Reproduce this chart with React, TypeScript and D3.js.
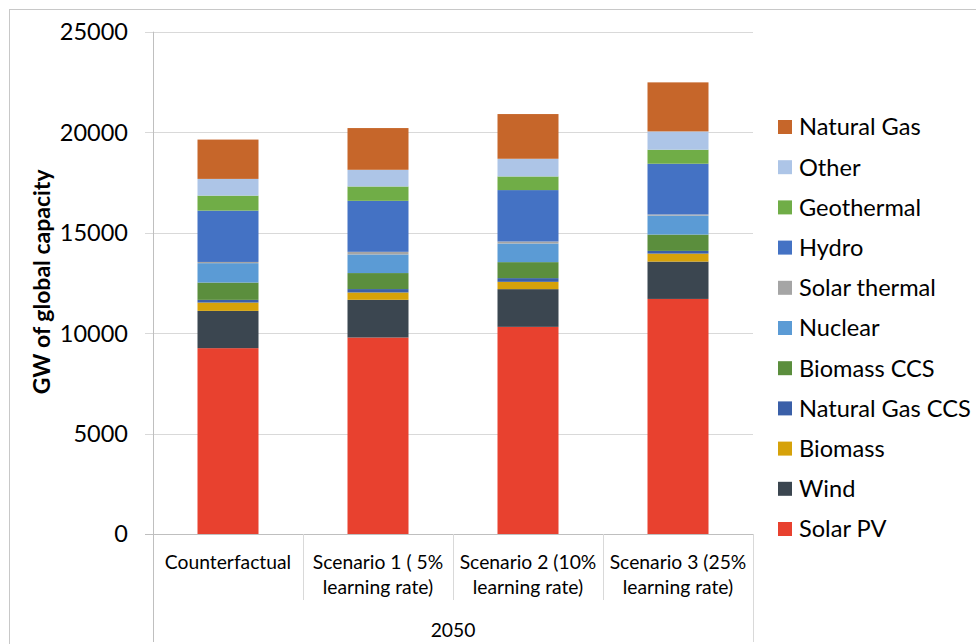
import React, { useEffect, useRef } from "react";
import * as d3 from "d3";

const categories = ["Counterfactual", "Scenario 1 ( 5%|learning rate)", "Scenario 2 (10%|learning rate)", "Scenario 3 (25%|learning rate)"];
const seriesNames = ["Solar PV", "Wind", "Biomass", "Natural Gas CCS", "Biomass CCS", "Nuclear", "Solar thermal", "Hydro", "Geothermal", "Other", "Natural Gas"];
const seriesColors = ["#E8412F", "#3B4650", "#D6A20A", "#3A5FA8", "#5B8E3D", "#5B9BD5", "#A5A5A5", "#4472C4", "#70AD47", "#ADC5E7", "#C6662A"];
const solarPV = [9250, 9780, 10310, 11700];
const wind = [1855, 1877, 1877, 1858];
const biomass = [414, 364, 364, 398];
const naturalGasCCS = [134, 169, 184, 134];
const biomassCCS = [862, 797, 796, 813];
const nuclear = [965, 927, 927, 946];
const solarThermal = [60, 130, 100, 55];
const hydro = [2555, 2539, 2559, 2525];
const geothermal = [747, 713, 678, 697];
const other = [832, 831, 881, 912];
const naturalGas = [1957, 2077, 2225, 2440];
const yTicks = [0, 5000, 10000, 15000, 20000, 25000];
const groupLabel = "2050";
const yTitle = "GW of global capacity";

const seriesValues = [solarPV, wind, biomass, naturalGasCCS, biomassCCS, nuclear, solarThermal, hydro, geothermal, other, naturalGas];

export default function App() {
  const ref = useRef<SVGSVGElement>(null);
  useEffect(() => {
    const svg = d3.select(ref.current);
    svg.selectAll("*").remove();
    const font = "Lato, sans-serif";
    const left = 153, right = 753, top = 31.7, bottom = 534;

    svg.append("rect").attr("x", 9.5).attr("y", 9.5).attr("width", 1200).attr("height", 1200)
      .attr("fill", "white").attr("stroke", "#C8C8C8").attr("stroke-width", 1);

    const x = d3.scaleBand<number>().domain(d3.range(categories.length)).range([left, right]).paddingInner(0).paddingOuter(0);
    const y = d3.scaleLinear().domain([0, 25000]).range([bottom, top]);

    yTicks.forEach((t) => {
      svg.append("line").attr("x1", 145).attr("x2", right).attr("y1", Math.round(y(t)) + 0.5).attr("y2", Math.round(y(t)) + 0.5)
        .attr("stroke", t === 0 ? "#BFBFBF" : "#D9D9D9").attr("stroke-width", 1);
      svg.append("text").attr("x", 128).attr("y", y(t)).attr("dy", "0.36em").attr("text-anchor", "end")
        .attr("font-family", font).attr("font-size", 23.5).attr("fill", "#000").text(String(t));
    });

    svg.append("line").attr("x1", left + 0.5).attr("x2", left + 0.5).attr("y1", top).attr("y2", 642).attr("stroke", "#BFBFBF");
    svg.append("line").attr("x1", right + 0.5).attr("x2", right + 0.5).attr("y1", bottom).attr("y2", 642).attr("stroke", "#D9D9D9");
    for (let i = 1; i < categories.length; i++) {
      const xx = Math.round(x(i)!) + 0.5;
      svg.append("line").attr("x1", xx).attr("x2", xx).attr("y1", bottom).attr("y2", 600).attr("stroke", "#D9D9D9");
    }

    const data = categories.map((c, i) => {
      const o: any = { idx: i };
      seriesNames.forEach((s, j) => (o[s] = seriesValues[j][i]));
      return o;
    });
    const stack = d3.stack<any>().keys(seriesNames)(data);
    const bw = 61;
    stack.forEach((layer, j) => {
      svg.append("g").selectAll("rect").data(layer).join("rect")
        .attr("x", (d: any) => x(d.data.idx)! + (x.bandwidth() - bw) / 2)
        .attr("y", (d: any) => y(d[1]))
        .attr("width", bw)
        .attr("height", (d: any) => y(d[0]) - y(d[1]))
        .attr("fill", seriesColors[j]);
    });

    categories.forEach((c, i) => {
      const lines = c.split("|");
      const cx = x(i)! + x.bandwidth() / 2;
      lines.forEach((ln, k) => {
        svg.append("text").attr("x", cx).attr("y", 569 + k * 25).attr("text-anchor", "middle")
          .attr("font-family", font).attr("font-size", 19.3).attr("fill", "#000").text(ln);
      });
    });
    svg.append("text").attr("x", (left + right) / 2).attr("y", 637).attr("text-anchor", "middle")
      .attr("font-family", font).attr("font-size", 19.3).attr("fill", "#000").text(groupLabel);

    svg.append("text").attr("transform", `translate(50, ${(top + bottom) / 2 - 1}) rotate(-90)`)
      .attr("text-anchor", "middle").attr("font-family", font).attr("font-weight", "bold")
      .attr("font-size", 23).attr("fill", "#000").text(yTitle);

    const legendOrder = seriesNames.map((s, j) => j).reverse();
    legendOrder.forEach((j, k) => {
      const cy = 127 + k * 40.2;
      svg.append("rect").attr("x", 778).attr("y", cy - 7).attr("width", 14).attr("height", 14).attr("fill", seriesColors[j]);
      svg.append("text").attr("x", 799).attr("y", cy).attr("dy", "0.36em")
        .attr("font-family", font).attr("font-size", 23.6).attr("fill", "#000").text(seriesNames[j]);
    });
  }, []);
  return (
    <svg ref={ref} width={976} height={644} style={{ position: "absolute", left: 0, top: 0, background: "white" }} />
  );
}
